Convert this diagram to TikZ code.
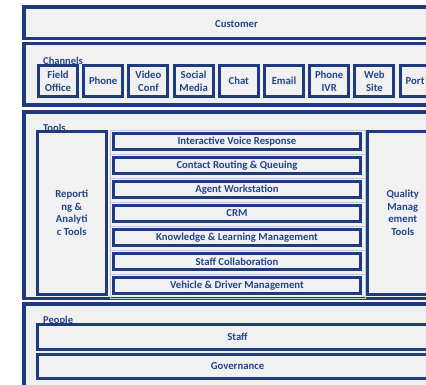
\documentclass[tikz,border=0pt]{standalone}
\usepackage{fontspec}
\setmainfont{Carlito}

\definecolor{frameblue}{HTML}{1F3A7D}
\definecolor{textblue}{HTML}{24448A}
\definecolor{panelgray}{HTML}{F1F1F1}
\definecolor{cellline}{HTML}{BFC9DC}

\tikzset{
  band/.style={draw=frameblue, line width=3.6pt, fill=panelgray},
  box/.style={draw=frameblue, line width=3pt, fill=panelgray},
  cell/.style={draw=cellline, line width=0.7pt},
  boxtext/.style={text=textblue, font=\fontsize{10.7}{12.7}\selectfont\bfseries, align=center, inner sep=0pt},
  bandtitle/.style={text=textblue, font=\fontsize{10.5}{12}\selectfont\bfseries, anchor=base west, inner sep=0pt}
}

\begin{document}
\begin{tikzpicture}[x=1pt,y=-1pt]

    \useasboundingbox (0,0) rectangle (426,384);
    \clip (0,0) rectangle (426,384);

    \coordinate (left)  at (24,0);
    \coordinate (right) at (449,0);

    \coordinate (Customer top)    at (0,7);
    \coordinate (Customer bottom) at (0,38.5);
    \coordinate (Channels top)    at (0,43.5);
    \coordinate (Channels bottom) at (0,105);
    \coordinate (Tools top)       at (0,112);
    \coordinate (Tools bottom)    at (0,298.5);
    \coordinate (People top)      at (0,304);
    \coordinate (People bottom)   at (0,388);

    % the four bands
    \draw[band] (left |- Customer top) rectangle node[pos=0.5, boxtext, yshift=-1pt] (Customer) {Customer} (right |- Customer bottom);
    \draw[band] (left |- Channels top) rectangle (right |- Channels bottom);
    \draw[band] (left |- Tools top)    rectangle (right |- Tools bottom);
    \draw[band] (left |- People top)   rectangle (right |- People bottom);

    \node[bandtitle] (Channels title) at (43,64)  {Channels};
    \node[bandtitle] (Tools title)    at (43,131) {Tools};
    \node[bandtitle] (People title)   at (43,323.5) {People};

    % channels row
    \foreach \name [count=\i from 0] in {Field\\Office,Phone,Video\\Conf,Social\\Media,Chat,Email,Phone\\IVR,Web\\Site}
    \draw[box] (38.5+45.2*\i,65.5) rectangle node[pos=0.5, boxtext] (channel \i) {\name} ++(39,31);
    \draw[box] (38.5+45.2*8,65.5) rectangle ++(39,31);
    \node[boxtext, anchor=west] (channel 8) at (405.5,81) {Port};

    % tools: side columns and the stack in between
    \draw[box] (37,131.5)    rectangle node[pos=0.5, boxtext] (Reporting) {Reporti\\ng \&\\Analyti\\c Tools} (106.5,294);
    \draw[box] (367.5,131.5) rectangle node[pos=0.5, boxtext] (Quality) {Quality\\Manag\\ement\\Tools} (438,294);

    \foreach \name [count=\i from 0] in {Interactive Voice Response,Contact Routing \& Queuing,Agent Workstation,CRM,Knowledge \& Learning Management,Staff Collaboration,Vehicle \& Driver Management}
    {
    \draw[cell] (110,130+24*\i) rectangle ++(255,24);
    \draw[box] (113.5,133.5+24*\i) rectangle node[pos=0.5, boxtext] (tool \i) {\name} (360.5,149.5+24*\i);
    }

    % people
    \draw[box] (37,324.5) rectangle node[pos=0.5, boxtext] (Staff) {Staff} (438,349);
    \draw[box] (37,354.5) rectangle node[pos=0.5, boxtext] (Governance) {Governance} (438,378.5);

\end{tikzpicture}
\end{document}
